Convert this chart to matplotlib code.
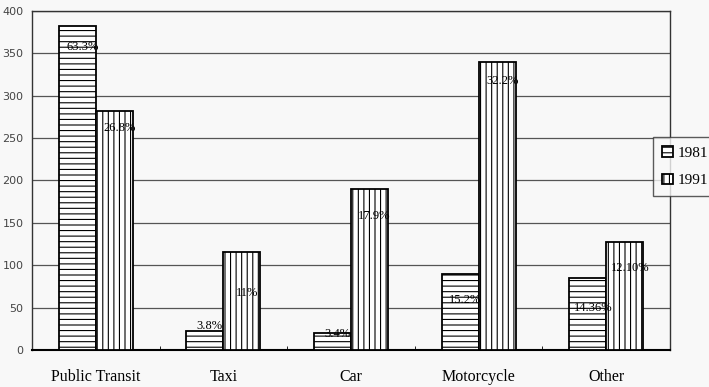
import matplotlib.pyplot as plt
import numpy as np

# transport mode counts, 1981 vs 1991
categories = ['Public Transit', 'Taxi', 'Car', 'Motorcycle', 'Other']
years = ['1981', '1991']
values_1981 = [382, 22, 20, 90, 85]
values_1991 = [282, 116, 190, 340, 127]
labels_1981 = ['63.3%', '3.8%', '3.4%', '15.2%', '14.36%']
labels_1991 = ['26.8%', '11%', '17.9%', '32.2%', '12.10%']
# where each percentage label sits (data units)
label_y_1981 = [358, 28, 19, 59, 50]
label_y_1991 = [262, 67, 158, 317, 97]

plt.rcParams['hatch.linewidth'] = 0.8
fig = plt.figure(figsize=(7.09, 3.87), dpi=100, facecolor='#f8f8f8')
ax = fig.add_axes([0.045, 0.0956, 0.9, 0.876])
ax.set_facecolor('#f8f8f8')

x = np.arange(len(categories))
w = 0.29
b1 = ax.bar(x - w / 2, values_1981, w, facecolor='white', edgecolor='black',
            hatch='---', linewidth=1.3, label=years[0], zorder=3)
b2 = ax.bar(x + w / 2, values_1991, w, facecolor='white', edgecolor='black',
            hatch='|||', linewidth=1.3, label=years[1], zorder=3)

for i in range(len(categories)):
    ax.text(x[i] - w / 2 + 0.04, label_y_1981[i], labels_1981[i], ha='center', va='center',
            fontsize=9, family='Liberation Serif', zorder=4)
    ax.text(x[i] + w / 2 + 0.04, label_y_1991[i], labels_1991[i], ha='center', va='center',
            fontsize=9, family='Liberation Serif', zorder=4)

ax.set_xlim(-0.5, len(categories) - 0.5)
ax.set_ylim(0, 400)
ax.set_yticks(np.arange(0, 401, 50))
ax.yaxis.grid(True, color='#555555', linewidth=0.9)
ax.set_axisbelow(True)
ax.tick_params(axis='y', length=0, labelsize=8, labelcolor='#444444', pad=6)
ax.set_xticks(x)
ax.set_xticklabels(categories, family='Liberation Serif', fontsize=11.5)
ax.tick_params(axis='x', length=0, pad=14)
ax.set_xticks(np.arange(0.5, len(categories) - 0.5), minor=True)
ax.tick_params(axis='x', which='minor', length=3, direction='in')
for s in ax.spines.values():
    s.set_color('#333333')
    s.set_linewidth(1.0)
ax.spines['bottom'].set_linewidth(1.5)
ax.spines['bottom'].set_color('black')

leg = fig.legend(handles=[b1, b2], loc='upper left', bbox_to_anchor=(0.921, 0.646),
                 prop={'family': 'Liberation Serif', 'size': 11}, frameon=True,
                 fancybox=False, handlelength=0.7, handleheight=0.7, handletextpad=0.3,
                 labelspacing=0.9, borderpad=0.6, borderaxespad=0)
leg.get_frame().set_edgecolor('#333333')
leg.get_frame().set_facecolor('#f8f8f8')

plt.savefig('out.png', dpi=100, facecolor=fig.get_facecolor())
